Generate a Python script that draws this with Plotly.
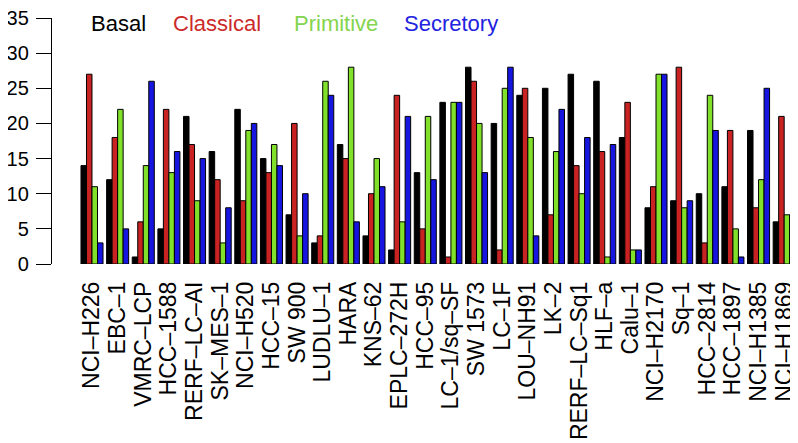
import plotly.graph_objects as go

cell_lines = ["NCI-H226", "EBC-1", "VMRC-LCP", "HCC-1588", "RERF-LC-AI", "SK-MES-1",
              "NCI-H520", "HCC-15", "SW 900", "LUDLU-1", "HARA", "KNS-62", "EPLC-272H",
              "HCC-95", "LC-1/sq-SF", "SW 1573", "LC-1F", "LOU-NH91", "LK-2",
              "RERF-LC-Sq1", "HLF-a", "Calu-1", "NCI-H2170", "Sq-1", "HCC-2814",
              "HCC-1897", "NCI-H1385", "NCI-H1869"]
tick_text = [c.replace("-", "\u2013") for c in cell_lines]

basal     = [14, 12, 1, 5, 21, 16, 22, 15, 7, 3, 17, 4, 2, 13, 23, 28, 20, 24, 25, 27, 26, 18, 8, 9, 10, 11, 19, 6]
classical = [27, 18, 6, 22, 17, 12, 9, 13, 20, 4, 15, 10, 24, 5, 1, 26, 2, 25, 7, 14, 16, 23, 11, 28, 3, 19, 8, 21]
primitive = [11, 22, 14, 13, 9, 3, 19, 17, 4, 26, 28, 15, 6, 21, 23, 20, 25, 18, 16, 10, 1, 2, 27, 8, 24, 5, 12, 7]
secretory = [3, 5, 26, 16, 15, 8, 20, 14, 10, 24, 6, 11, 21, 12, 23, 13, 28, 4, 22, 18, 17, 2, 27, 9, 19, 1, 25, 7]
y_ticks = [0, 5, 10, 15, 20, 25, 30, 35]

series = [("Basal", basal, "#000000", "#000000"),
          ("Classical", classical, "#c82222", "#cc2a2a"),
          ("Primitive", primitive, "#80e02a", "#84d44e"),
          ("Secretory", secretory, "#1616e0", "#2222e0")]

FONT = "Liberation Sans, Arial, Helvetica, sans-serif"
OFF = 8  # default page body margin
W, H = 798 - OFF, 443 - OFF
L, R, T, B = 52 - OFF, 1, 17.5 - OFF, 178.5

fig = go.Figure()
for name, vals, col, _ in series:
    fig.add_trace(go.Bar(x=list(range(len(cell_lines))), y=vals, name=name,
                         marker=dict(color=col, line=dict(color="#000000", width=1)),
                         showlegend=False))

# legend as coloured text (page pixel positions)
legend_px = [89, 171, 292, 402]
for (name, _, _, tcol), px in zip(series, legend_px):
    fig.add_annotation(x=(px - OFF - L) / (W - L - R),
                       y=(H - B - (23 - OFF)) / (H - T - B),
                       xref="paper", yref="paper", text=name, showarrow=False,
                       xanchor="left", yanchor="middle",
                       font=dict(family=FONT, size=22, color=tcol))

fig.update_layout(
    width=W, height=H,
    margin=dict(l=L, r=R, t=T, b=B, pad=0),
    plot_bgcolor="white", paper_bgcolor="white",
    barmode="group", bargap=0.14, bargroupgap=0,
    font=dict(family=FONT, color="black"),
    xaxis=dict(tickmode="array", tickvals=list(range(len(cell_lines))), ticktext=tick_text,
               tickangle=-90, range=[-1.56, 27.5], showgrid=False, zeroline=False,
               showline=False, ticks="", tickfont=dict(size=23), ticklabelstandoff=12,
               automargin=False),
    yaxis=dict(range=[0, 35], tickmode="array", tickvals=y_ticks, showgrid=False,
               zeroline=False, showline=True, linecolor="black", linewidth=1.3,
               ticks="outside", ticklen=15, tickwidth=1.3, tickcolor="black",
               tickfont=dict(size=20), ticklabelstandoff=3, automargin=False,
               ticklabeloverflow="allow"),
)

fig.write_html("out.html")
